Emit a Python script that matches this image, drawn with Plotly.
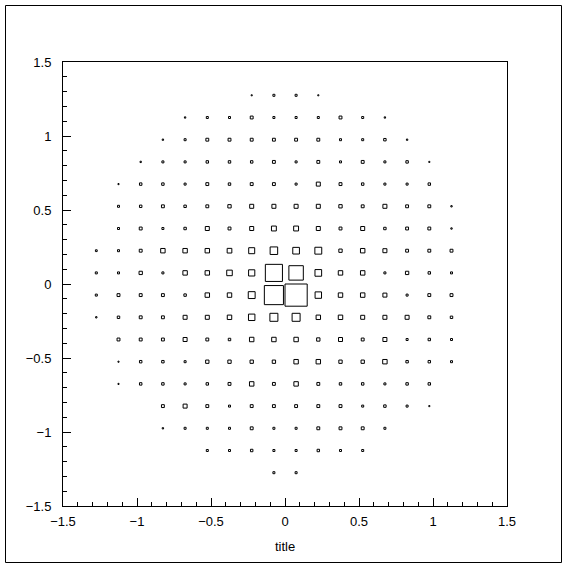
import numpy as np
import plotly.graph_objects as go

# ---- binning (20 x 20 bins on [-1.5, 1.5]) ----
x_min, x_max, n_bins = -1.5, 1.5, 20
bin_edges = np.linspace(x_min, x_max, n_bins + 1)
bin_centers = 0.5 * (bin_edges[:-1] + bin_edges[1:])

# ---- bin contents, one list per row (row index j counted from bottom), first filled column ----
row_01 = (9, [9, 9])
row_02 = (6, [9, 9, 11, 9, 9, 11, 9, 9])
row_03 = (4, [6, 9, 9, 9, 13, 9, 9, 13, 13, 13, 9])
row_04 = (4, [13, 18, 13, 9, 13, 13, 13, 13, 13, 9, 11, 9, 5])
row_05 = (2, [5, 11, 11, 9, 11, 13, 20, 13, 20, 13, 11, 11, 9, 11, 11])
row_06 = (2, [5, 11, 11, 9, 15, 15, 15, 15, 20, 20, 15, 15, 20, 11, 11, 9])
row_07 = (2, [13, 13, 13, 18, 13, 11, 20, 20, 20, 15, 18, 13, 18, 9, 11, 9])
row_08 = (1, [6, 11, 13, 13, 18, 18, 20, 29, 36, 36, 20, 20, 18, 18, 18, 13, 11])
row_09 = (1, [9, 13, 13, 13, 11, 20, 20, 31, 86, 100, 29, 20, 20, 18, 9, 13, 13])
row_10 = (1, [9, 9, 15, 9, 20, 20, 25, 28, 77, 65, 30, 20, 20, 9, 15, 11, 9])
row_11 = (1, [8, 9, 13, 20, 20, 20, 21, 27, 34, 30, 31, 15, 20, 18, 13, 13, 13])
row_12 = (2, [9, 13, 9, 11, 18, 13, 18, 22, 22, 18, 13, 18, 11, 13, 13, 6])
row_13 = (2, [9, 11, 13, 11, 13, 15, 18, 18, 18, 18, 15, 13, 18, 13, 13, 6])
row_14 = (2, [5, 11, 11, 9, 13, 11, 13, 13, 9, 18, 13, 11, 9, 9, 11])
row_15 = (3, [6, 9, 9, 11, 11, 11, 13, 9, 13, 9, 13, 9, 11, 5])
row_16 = (4, [6, 9, 13, 13, 13, 13, 13, 13, 9, 9, 11, 6])
row_17 = (5, [6, 9, 9, 13, 9, 9, 9, 13, 9, 6])
row_18 = (8, [5, 9, 9, 5])

rows = {1: row_01, 2: row_02, 3: row_03, 4: row_04, 5: row_05, 6: row_06,
        7: row_07, 8: row_08, 9: row_09, 10: row_10, 11: row_11, 12: row_12,
        13: row_13, 14: row_14, 15: row_15, 16: row_16, 17: row_17, 18: row_18}

x_tick_vals = [-1.5, -1, -0.5, 0, 0.5, 1, 1.5]
y_tick_vals = [-1.5, -1, -0.5, 0, 0.5, 1, 1.5]
x_title = "title"

# ---- build box outlines (ROOT "BOX" option: side proportional to content) ----
z = np.zeros((n_bins, n_bins))
for j, (i0, vals) in rows.items():
    for k, v in enumerate(vals):
        z[j, i0 + k] = v
zmax = z.max()
bw = bin_edges[1] - bin_edges[0]

xs, ys = [], []
for j in range(n_bins):
    for i in range(n_bins):
        if z[j, i] <= 0:
            continue
        h = 0.5 * bw * z[j, i] / zmax
        xc, yc = bin_centers[i], bin_centers[j]
        xs += [xc - h, xc + h, xc + h, xc - h, xc - h, None]
        ys += [yc - h, yc - h, yc + h, yc + h, yc - h, None]

fig = go.Figure()
fig.add_trace(go.Scatter(x=xs, y=ys, mode="lines",
                         line=dict(color="black", width=1),
                         hoverinfo="skip", showlegend=False))

font = dict(family="Liberation Sans, Arial, Helvetica, sans-serif", size=13, color="black")
axis_common = dict(
    showgrid=False, zeroline=False, showline=True, linecolor="black", linewidth=1,
    mirror=True, ticks="inside", ticklen=8, tickcolor="black", tickwidth=1,
    minor=dict(ticks="inside", ticklen=4, dtick=0.1, tickcolor="black", tickwidth=1, showgrid=False),
    tickfont=font, fixedrange=True,
)

fig.update_layout(
    width=567, height=568,
    margin=dict(l=63, r=60, t=62, b=62),
    paper_bgcolor="white", plot_bgcolor="white",
    font=font,
    xaxis=dict(range=[x_min, x_max], tickmode="array", tickvals=x_tick_vals,
               ticktext=[("−" if v < 0 else "") + f"{abs(v):g}" for v in x_tick_vals],
               ticklabelstandoff=3,
               title=dict(text=x_title, font=font, standoff=14), **axis_common),
    yaxis=dict(range=[x_min, x_max], tickmode="array", tickvals=y_tick_vals,
               ticktext=[("−" if v < 0 else "") + f"{abs(v):g}" for v in y_tick_vals],
               ticklabelstandoff=8, **axis_common),
    shapes=[dict(type="rect", xref="paper", yref="paper",
                 x0=(5.5 - 63) / 444, x1=(561.5 - 63) / 444,
                 y0=(506 - 562.5) / 444, y1=(506 - 5.5) / 444,
                 line=dict(color="black", width=1), fillcolor="rgba(0,0,0,0)", layer="below")],
)

fig.write_html("out.html", config={"displayModeBar": False, "staticPlot": True},
               post_script="document.body.style.margin='0';document.body.style.overflow='hidden';")
